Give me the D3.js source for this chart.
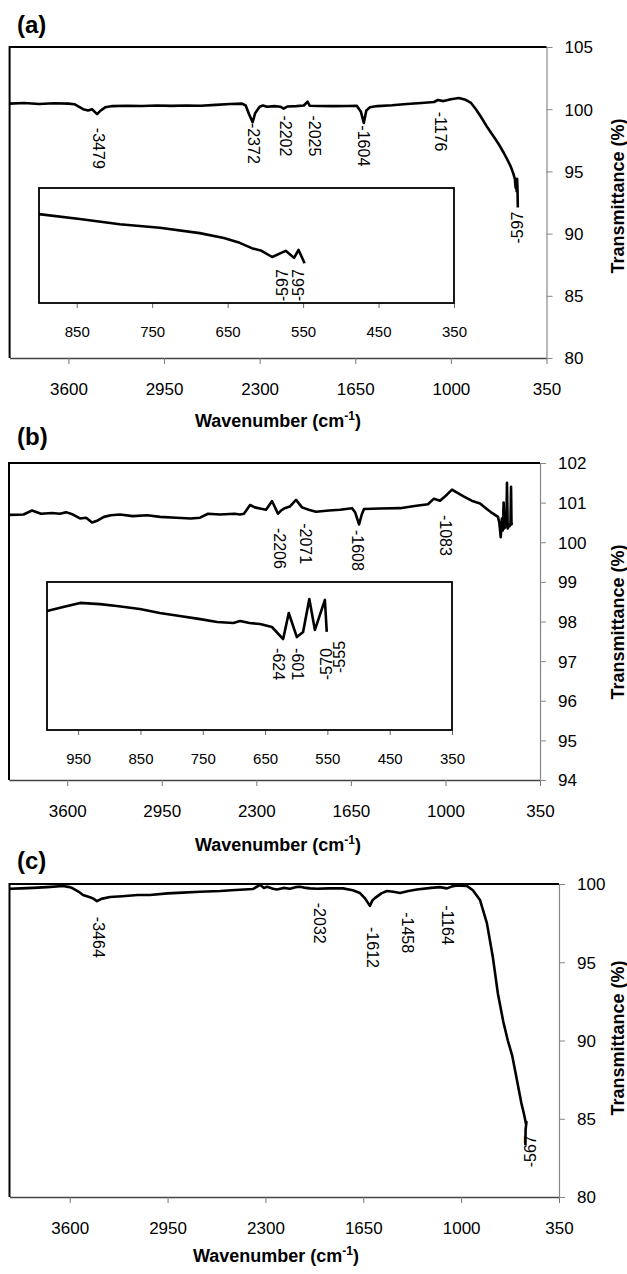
<!DOCTYPE html>
<html>
<head>
<meta charset="utf-8">
<script src="https://cdn.jsdelivr.net/npm/d3@7"></script>
<style>
  body { margin: 0; background: #fff; }
  text { font-family: "Liberation Sans", Arial, sans-serif; }
</style>
</head>
<body>
<div id="vis_container"></div>
<script>
// tick labels
var wnTicks = [3600, 2950, 2300, 1650, 1000, 350];
var yTicksA = [80, 85, 90, 95, 100, 105];
var yTicksB = [94, 95, 96, 97, 98, 99, 100, 101, 102];
var yTicksC = [80, 85, 90, 95, 100];
var insetTicksA = [850, 750, 650, 550, 450, 350];
var insetTicksB = [950, 850, 750, 650, 550, 450, 350];

// spectra [wavenumber, transmittance]
var specA = [[4000,100.45],[3900,100.5],[3800,100.42],[3700,100.48],[3600,100.45],[3560,100.4],[3530,100.2],
  [3500,100.0],[3466,99.9],[3440,100.0],[3405,99.6],[3380,99.9],[3350,100.15],[3300,100.25],[3200,100.28],
  [3100,100.26],[3000,100.3],[2900,100.27],[2800,100.3],[2700,100.28],[2600,100.35],[2500,100.42],[2420,100.45],
  [2395,100.3],[2372,99.6],[2348,98.95],[2330,99.7],[2300,100.2],[2278,100.3],[2250,100.2],[2200,100.25],
  [2160,100.2],[2137,100.05],[2110,100.22],[2050,100.25],[2000,100.3],[1974,100.6],[1960,100.28],[1900,100.26],
  [1800,100.25],[1700,100.26],[1640,100.28],[1612,99.8],[1592,98.9],[1575,99.9],[1550,100.15],[1500,100.25],
  [1400,100.32],[1300,100.42],[1200,100.5],[1115,100.58],[1088,100.74],[1050,100.65],[1000,100.8],[945,100.9],
  [900,100.75],[863,100.5],[830,100.0],[795,99.37],[750,98.5],[707,97.77],[670,97.1],[640,96.48],[610,95.8],
  [592,95.36],[575,94.8],[565,94.4],[560,93.7],[556,94.3],[553,93.4],[550,94.4],[547,93.5],[545,92.1]];

var insetSpecA = [[900,98.45],[846,97.9],[793,97.3],[740,96.9],[687,96.3],[655,95.75],[634,95.2],[618,94.6],
  [605,94.3],[591,93.6],[573,94.3],[562,93.5],[556,94.4],[548,92.9]];

var specB = [[3993,100.69],[3900,100.7],[3842,100.8],[3780,100.72],[3704,100.74],[3650,100.72],[3608,100.76],
  [3560,100.7],[3512,100.6],[3470,100.62],[3429,100.5],[3390,100.55],[3347,100.64],[3300,100.68],[3237,100.7],
  [3150,100.66],[3050,100.68],[2962,100.64],[2850,100.62],[2750,100.6],[2687,100.62],[2632,100.72],[2550,100.7],
  [2450,100.72],[2412,100.7],[2385,100.72],[2343,100.94],[2310,100.88],[2275,100.85],[2233,100.82],[2192,101.04],
  [2151,100.72],[2130,100.8],[2110,100.85],[2070,100.9],[2027,101.07],[1986,100.88],[1940,100.82],[1890,100.77],
  [1800,100.8],[1725,100.82],[1642,100.86],[1620,100.75],[1594,100.45],[1575,100.7],[1560,100.84],[1450,100.85],
  [1312,100.86],[1200,100.92],[1120,100.96],[1079,101.1],[1037,101.05],[990,101.2],[955,101.33],[920,101.25],
  [872,101.15],[820,101.05],[762,100.98],[720,100.85],[680,100.74],[639,100.64],[630,100.5],[620,100.13],
  [612,100.6],[606,100.3],[600,101.0],[594,100.35],[588,100.5],[581,100.4],[577,101.5],[572,100.35],[566,100.45],
  [560,100.4],[553,100.45],[549,101.4],[546,100.45],[543,100.5]];

var insetSpecB = [[1000,100.53],[974,100.73],[947,100.94],[915,100.88],[888,100.78],[851,100.63],[819,100.43],
  [787,100.28],[754,100.12],[727,99.97],[701,99.92],[690,100.02],[675,99.92],[658,99.87],[639,99.72],[621,99.11],
  [612,100.43],[599,99.21],[589,99.47],[579,101.14],[570,99.57],[554,101.09],[551,99.47]];

var specC = [[3997,99.7],[3920,99.72],[3844,99.75],[3750,99.8],[3645,99.87],[3600,99.8],[3585,99.75],[3540,99.5],
  [3512,99.3],[3465,99.15],[3440,99.05],[3419,98.9],[3390,99.05],[3333,99.17],[3250,99.22],[3150,99.3],
  [3067,99.3],[2950,99.4],[2850,99.45],[2735,99.5],[2600,99.55],[2500,99.62],[2383,99.68],[2336,99.95],
  [2310,99.75],[2289,99.82],[2250,99.7],[2223,99.65],[2180,99.75],[2137,99.7],[2100,99.8],[2070,99.82],
  [2032,99.75],[2004,99.72],[1957,99.7],[1880,99.72],[1785,99.72],[1720,99.6],[1672,99.42],[1640,99.1],
  [1606,98.6],[1590,98.95],[1573,99.1],[1530,99.4],[1493,99.55],[1450,99.5],[1406,99.42],[1350,99.55],
  [1294,99.65],[1200,99.75],[1141,99.8],[1094,99.72],[1060,99.85],[1028,99.9],[962,99.88],[922,99.6],
  [875,98.98],[829,97.5],[789,95.3],[756,93.0],[720,91.2],[690,90.0],[660,89.0],[640,88.0],[620,87.0],
  [600,86.0],[585,85.4],[576,85.0],[570,84.7],[566,84.8],[572,84.3],[573,83.3]];

// peak labels: text, wavenumber, transmittance where the label starts, rotation
var peaksA = [{t:"-3479",w:3398,v:98.5,r:90},{t:"-2372",w:2342,v:98.9,r:90},{t:"-2202",w:2124,v:99.5,r:90},
  {t:"-2025",w:1926,v:99.5,r:90},{t:"-1604",w:1592,v:98.7,r:90},{t:"-1176",w:1068,v:99.8,r:90},
  {t:"-597",w:550,v:89.2,r:-90}];
var insetPeaksA = [{t:"-597",w:578,v:88.6,r:-90},{t:"-567",w:556,v:88.6,r:-90}];
var peaksB = [{t:"-2206",w:2137,v:100.36,r:90},{t:"-2071",w:1958,v:100.48,r:90},
  {t:"-1608",w:1601,v:100.31,r:90},{t:"-1083",w:996,v:100.69,r:90}];
var insetPeaksB = [{t:"-624",w:629,v:98.65,r:90},{t:"-601",w:597,v:98.65,r:90},
  {t:"-570",w:552,v:97.03,r:-90},{t:"-555",w:531,v:97.39,r:-90}];
var peaksC = [{t:"-3464",w:3406,v:97.9,r:90},{t:"-2032",w:1938,v:98.8,r:90},{t:"-1612",w:1585,v:97.25,r:90},
  {t:"-1458",w:1353,v:98.2,r:90},{t:"-1164",w:1088,v:98.65,r:90},{t:"-567",w:543,v:81.9,r:-90}];

var width = 627, height = 1274;
var svg = d3.select("#vis_container").append("svg")
  .attr("width", width)
  .attr("height", height)
  .style("background-color", "#FFFFFF");

function drawPeaks(g, x, y, peaks, size) {
  peaks.forEach(function(d) {
    g.append("text")
      .attr("transform", "translate(" + x(d.w) + "," + y(d.v) + ") rotate(" + d.r + ")")
      .attr("dy", "0.35em")
      .attr("font-size", size)
      .text(d.t);
  });
}

function drawPanel(p) {
  var g = svg.append("g");
  var x = d3.scaleLinear().domain([4000, 350]).range([p.x0, p.x1]);
  var y = d3.scaleLinear().domain(p.yDom).range([p.y1, p.y0]);

  // x axis
  var xa = g.append("g")
    .attr("transform", "translate(0," + p.y1 + ")")
    .call(d3.axisBottom(x).tickValues(wnTicks).tickSize(6).tickSizeOuter(0).tickFormat(d3.format("d")));
  xa.select(".domain").attr("stroke", "#444").attr("stroke-width", 1.5);
  xa.selectAll(".tick line").attr("stroke", "#777");
  xa.selectAll("text").attr("y", 31).attr("dy", "0.35em")
    .attr("font-size", 17).attr("fill", "#000");

  // y axis on the right
  var ya = g.append("g")
    .attr("transform", "translate(" + p.x1 + ",0)")
    .call(d3.axisRight(y).tickValues(p.yTicks).tickSize(6).tickSizeOuter(0).tickFormat(d3.format("d")));
  ya.select(".domain").attr("stroke", "#888").attr("stroke-width", 1.2);
  ya.selectAll(".tick line").attr("stroke", "#888");
  ya.selectAll("text").attr("x", 18).attr("dy", "0.35em")
    .attr("font-size", 17).attr("fill", "#000");

  // plot area border (top and left)
  g.append("path")
    .attr("d", "M" + p.x0 + "," + p.y1 + "V" + p.y0 + "H" + p.x1)
    .attr("fill", "none").attr("stroke", "#000").attr("stroke-width", 2);

  var line = d3.line().x(function(d) { return x(d[0]); }).y(function(d) { return y(d[1]); });
  g.append("path").datum(p.data).attr("d", line)
    .attr("fill", "none").attr("stroke", "#000").attr("stroke-width", 2.6)
    .attr("stroke-linejoin", "round");

  drawPeaks(g, x, y, p.peaks, 16);

  if (p.inset) {
    var q = p.inset;
    var xi = d3.scaleLinear().domain(q.xDom).range([q.x0, q.x1]);
    var yi = d3.scaleLinear().domain(q.yDom).range([q.y1, q.y0]);
    var ia = g.append("g")
      .attr("transform", "translate(0," + q.y1 + ")")
      .call(d3.axisBottom(xi).tickValues(q.ticks).tickSize(5).tickSizeOuter(0).tickFormat(d3.format("d")));
    ia.select(".domain").remove();
    ia.selectAll(".tick line").attr("stroke", "#666");
    ia.selectAll("text").attr("y", 29).attr("dy", "0.35em")
      .attr("font-size", 15).attr("fill", "#000");
    g.append("rect")
      .attr("x", q.x0).attr("y", q.y0)
      .attr("width", q.x1 - q.x0).attr("height", q.y1 - q.y0)
      .attr("fill", "none").attr("stroke", "#000").attr("stroke-width", 1.8);
    var iline = d3.line().x(function(d) { return xi(d[0]); }).y(function(d) { return yi(d[1]); });
    g.append("path").datum(q.data).attr("d", iline)
      .attr("fill", "none").attr("stroke", "#000").attr("stroke-width", 2.6)
      .attr("stroke-linejoin", "round");
    drawPeaks(g, xi, yi, q.peaks, 16);
  }

  // titles
  g.append("text").attr("x", 17).attr("y", p.letterY + 8)
    .attr("font-size", 24).attr("font-weight", "bold").text(p.letter);

  var xt = g.append("text").attr("x", p.xTitleX).attr("y", p.xTitleY + 6)
    .attr("text-anchor", "middle").attr("font-size", 18).attr("font-weight", "bold");
  xt.append("tspan").text("Wavenumber (cm");
  xt.append("tspan").attr("dy", -7).attr("font-size", 12).text("-1");
  xt.append("tspan").attr("dy", 7).text(")");

  g.append("text")
    .attr("transform", "translate(624," + p.yTitleY + ") rotate(-90)")
    .attr("text-anchor", "middle").attr("font-size", 18).attr("font-weight", "bold")
    .text("Transmittance (%)");
}

drawPanel({
  letter: "(a)", letterY: 25, x0: 9.6, x1: 546.5, y0: 47, y1: 358,
  yDom: [80, 105], yTicks: yTicksA, data: specA, peaks: peaksA,
  xTitleX: 278, xTitleY: 421, yTitleY: 196,
  inset: { x0: 39, x1: 454, y0: 188, y1: 303, xDom: [900, 350], yDom: [88.4, 101.4],
    ticks: insetTicksA, data: insetSpecA, peaks: insetPeaksA }
});

drawPanel({
  letter: "(b)", letterY: 437, x0: 9, x1: 540, y0: 463, y1: 780,
  yDom: [94, 102], yTicks: yTicksB, data: specB, peaks: peaksB,
  xTitleX: 278, xTitleY: 845, yTitleY: 622,
  inset: { x0: 47, x1: 452, y0: 582, y1: 730, xDom: [1000, 350], yDom: [94.5, 102],
    ticks: insetTicksB, data: insetSpecB, peaks: insetPeaksB }
});

drawPanel({
  letter: "(c)", letterY: 861, x0: 9.5, x1: 559, y0: 884, y1: 1197,
  yDom: [80, 100], yTicks: yTicksC, data: specC, peaks: peaksC,
  xTitleX: 276, xTitleY: 1256, yTitleY: 1038
});
</script>
</body>
</html>
